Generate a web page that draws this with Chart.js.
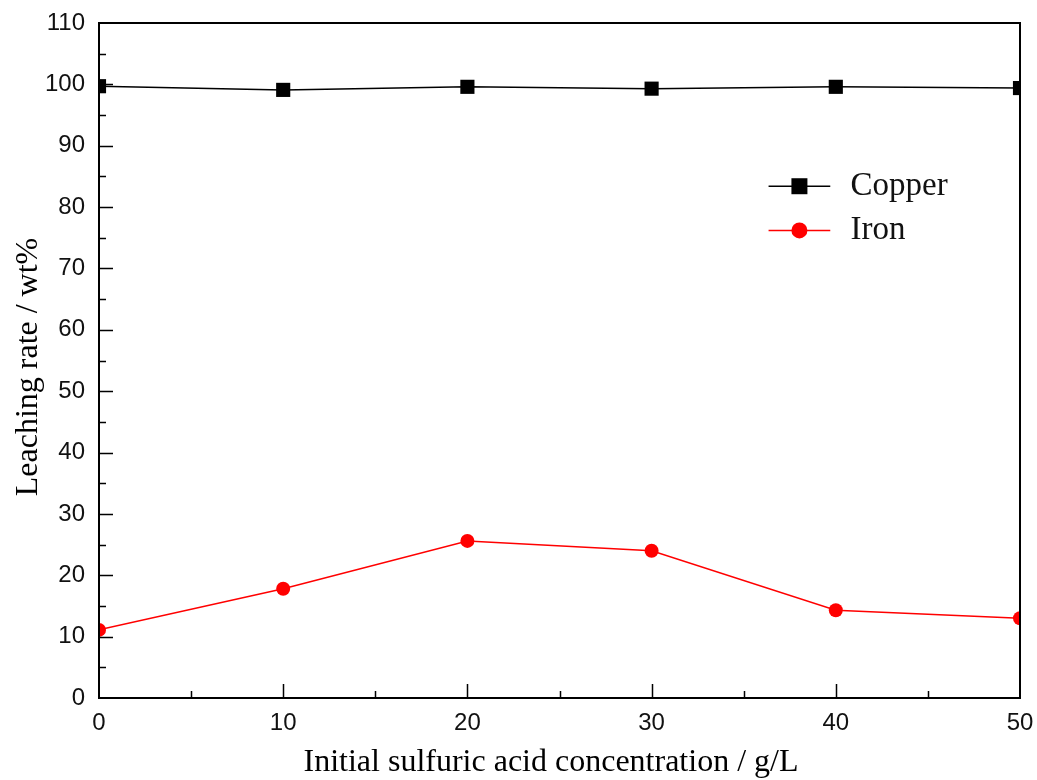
<!DOCTYPE html>
<html>
<head>
<meta charset="utf-8">
<script src="https://cdn.jsdelivr.net/npm/chart.js@4.4.1/dist/chart.umd.min.js"></script>
<style>
  html, body { margin: 0; padding: 0; background: #fff; }
  #wrap { width: 1037px; height: 780px; }
</style>
</head>
<body>
<div id="wrap"><canvas id="chart"></canvas></div>
<script>
// Initial sulfuric acid concentration (g/L)
const acidConc = [0, 10, 20, 30, 40, 50];
// Leaching rate (wt%)
const copperRate = [99.7, 99.1, 99.6, 99.3, 99.6, 99.4];
const ironRate = [11.1, 17.8, 25.6, 24.0, 14.3, 13.0];

const seriesNames = ['Copper', 'Iron'];
const xTitle = 'Initial sulfuric acid concentration / g/L';
const yTitle = 'Leaching rate / wt%';

const serif = '"Liberation Serif", "Times New Roman", serif';
const sans = '"Liberation Sans", Arial, sans-serif';

// Inward major/minor ticks, box frame, axis titles and in-plot legend
const frameTicks = {
    id: 'frameTicks',
    afterDatasetsDraw(chart) {
        const { ctx, chartArea: a, scales: { x, y } } = chart;
        ctx.save();
        ctx.strokeStyle = '#000';
        ctx.lineWidth = 2;
        ctx.strokeRect(a.left, a.top, a.right - a.left, a.bottom - a.top);
        ctx.lineWidth = 1.5;
        ctx.beginPath();
        for (let v = 5; v < 50; v += 5) {
            const px = Math.round(x.getPixelForValue(v)) + 0.5;
            const len = v % 10 === 0 ? 14 : 7;
            ctx.moveTo(px, a.bottom);
            ctx.lineTo(px, a.bottom - len);
        }
        for (let v = 5; v < 110; v += 5) {
            const py = Math.round(y.getPixelForValue(v)) + 0.5;
            const len = v % 10 === 0 ? 14 : 7;
            ctx.moveTo(a.left, py);
            ctx.lineTo(a.left + len, py);
        }
        ctx.stroke();

        // axis titles
        ctx.fillStyle = '#000';
        ctx.font = '32px ' + serif;
        ctx.textAlign = 'center';
        ctx.textBaseline = 'alphabetic';
        ctx.fillText(xTitle, 551, 771);
        ctx.save();
        ctx.translate(37, 367);
        ctx.rotate(-Math.PI / 2);
        ctx.fillText(yTitle, 0, 0);
        ctx.restore();

        // legend inside the plot
        const items = [
            { label: seriesNames[0], color: '#000', style: 'rect', yv: 83.4 },
            { label: seriesNames[1], color: '#ff0000', style: 'circle', yv: 76.2 }
        ];
        const x0 = x.getPixelForValue(36.35);
        const x1 = x.getPixelForValue(39.7);
        const xm = (x0 + x1) / 2;
        ctx.font = '33px ' + serif;
        ctx.textAlign = 'left';
        ctx.textBaseline = 'middle';
        items.forEach(it => {
            const py = y.getPixelForValue(it.yv);
            ctx.strokeStyle = it.color;
            ctx.fillStyle = it.color;
            ctx.lineWidth = 1.5;
            ctx.beginPath();
            ctx.moveTo(x0, py);
            ctx.lineTo(x1, py);
            ctx.stroke();
            ctx.beginPath();
            if (it.style === 'rect') {
                ctx.rect(xm - 8, py - 8, 16, 16);
            } else {
                ctx.arc(xm, py, 8, 0, Math.PI * 2);
            }
            ctx.fill();
            ctx.fillStyle = '#111';
            ctx.fillText(it.label, x.getPixelForValue(40.8), py);
        });
        ctx.restore();
    }
};

new Chart(document.getElementById('chart'), {
    type: 'line',
    data: {
        datasets: [{
            label: seriesNames[0],
            data: acidConc.map((c, i) => ({ x: c, y: copperRate[i] })),
            borderColor: '#000',
            backgroundColor: '#000',
            borderWidth: 1.5,
            pointStyle: 'rect',
            pointRadius: 10,
            pointBorderWidth: 0,
            clip: 0
        }, {
            label: seriesNames[1],
            data: acidConc.map((c, i) => ({ x: c, y: ironRate[i] })),
            borderColor: '#ff0000',
            backgroundColor: '#ff0000',
            borderWidth: 1.5,
            pointStyle: 'circle',
            pointRadius: 7,
            pointBorderWidth: 0,
            clip: 0
        }]
    },
    options: {
        responsive: true,
        maintainAspectRatio: false,
        animation: false,
        layout: { padding: { left: 0, top: 23, right: 17, bottom: 0 } },
        plugins: {
            legend: { display: false },
            tooltip: { enabled: false }
        },
        scales: {
            x: {
                type: 'linear',
                min: 0,
                max: 50,
                grid: { display: false, drawTicks: false },
                border: { display: false },
                ticks: {
                    stepSize: 10,
                    padding: 11,
                    color: '#111',
                    font: { family: sans, size: 24 }
                },
                afterFit(scale) {
                    scale.height = 82;
                    scale.paddingLeft = 0;
                    scale.paddingRight = 0;
                }
            },
            y: {
                min: 0,
                max: 110,
                grid: { display: false, drawTicks: false },
                border: { display: false },
                ticks: {
                    stepSize: 10,
                    padding: 14,
                    color: '#111',
                    font: { family: sans, size: 24 }
                },
                afterFit(scale) {
                    scale.width = 99;
                    scale.paddingTop = 0;
                    scale.paddingBottom = 0;
                }
            }
        }
    },
    plugins: [frameTicks]
});
</script>
</body>
</html>
